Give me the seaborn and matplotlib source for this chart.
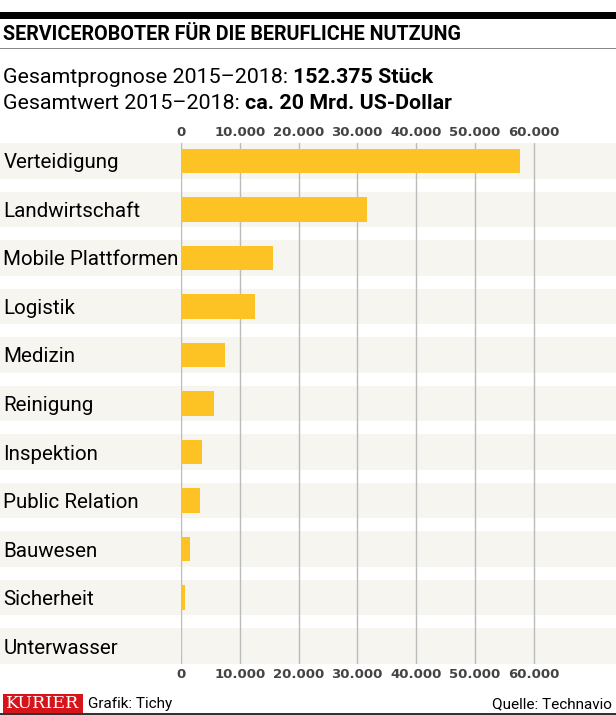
import matplotlib
matplotlib.use("Agg")
import matplotlib.pyplot as plt
import matplotlib.transforms as mtransforms
from matplotlib.patches import Rectangle
import seaborn as sns
import pandas as pd

# data
categories = ["Verteidigung", "Landwirtschaft", "Mobile Plattformen", "Logistik",
              "Medizin", "Reinigung", "Inspektion", "Public Relation",
              "Bauwesen", "Sicherheit", "Unterwasser"]
units = [57700, 31700, 15700, 12600, 7500, 5600, 3600, 3300, 1600, 700, 250]
ticks = [0, 10000, 20000, 30000, 40000, 50000, 60000]
tick_labels = ["0", "10.000", "20.000", "30.000", "40.000", "50.000", "60.000"]

df = pd.DataFrame({"Bereich": categories, "Stueck": units})

sns.set_style("white")
plt.rcParams["font.family"] = ["Roboto", "DejaVu Sans"]

W, H = 616, 715
fig = plt.figure(figsize=(W / 100, H / 100), dpi=100)
ax = fig.add_axes([181 / W, 1 - 664 / H, 1 - 181 / W, (664 - 143) / H])

# bars
sns.barplot(data=df, x="Stueck", y="Bereich", orient="h", color="#FDC325",
            saturation=1, width=0.5, linewidth=0, ax=ax, zorder=2)

# light row bands across the full width
trans = mtransforms.blended_transform_factory(fig.transFigure, ax.transData)
for i in range(len(categories)):
    ax.add_patch(Rectangle((0, i - 0.37), 1, 0.74, transform=trans,
                           facecolor="#F7F5F0", edgecolor="none",
                           clip_on=False, zorder=0.1))

ax.set_xlim(0, (W - 181) / 0.005875)
ax.set_ylim(10.37, -0.37)
ax.set_xticks(ticks)
ax.set_xticklabels(tick_labels)
ax.set_xlabel("")
ax.set_ylabel("")
ax.grid(axis="x", color="#BBBBBB", linewidth=1)
ax.set_axisbelow(True)
for s in ax.spines.values():
    s.set_visible(False)

ax.tick_params(axis="x", top=True, labeltop=True, bottom=True, labelbottom=True,
               length=0, pad=3, labelsize=9.5, labelcolor="#444444")
for lab in ax.get_xticklabels():
    lab.set_fontfamily("DejaVu Sans")
    lab.set_fontweight("bold")
ax.tick_params(axis="y", length=0, pad=128, labelsize=14.8, labelcolor="#000000")
for lab in ax.get_yticklabels():
    lab.set_ha("left")

# header
fig.patches.append(Rectangle((0, 1 - 19 / H), 1, 7 / H, transform=fig.transFigure,
                             facecolor="black", edgecolor="none"))
fig.patches.append(Rectangle((0, 1 - 48.5 / H), 1, 1 / H, transform=fig.transFigure,
                             facecolor="#888888", edgecolor="none"))
fig.text(3 / W, 1 - 34 / H, "SERVICEROBOTER FÜR DIE BERUFLICHE NUTZUNG",
         fontsize=14.2, fontweight="bold", va="center", ha="left", color="#000000")

t1 = fig.text(3 / W, 1 - 83 / H, "Gesamtprognose 2015–2018: ", fontsize=15.4,
              va="baseline", ha="left", color="#000000")
ax.annotate("152.375 Stück", xy=(1, 0), xycoords=t1, va="bottom", ha="left",
            fontsize=15.4, fontweight="bold", color="#000000")
t2 = fig.text(3 / W, 1 - 109 / H, "Gesamtwert 2015–2018: ", fontsize=15.4,
              va="baseline", ha="left", color="#000000")
ax.annotate("ca. 20 Mrd. US-Dollar", xy=(1, 0), xycoords=t2, va="bottom", ha="left",
            fontsize=15.4, fontweight="bold", color="#000000")

# footer
fig.patches.append(Rectangle((3 / W, 1 - 714 / H), 80 / W, 20 / H,
                             transform=fig.transFigure, facecolor="#D7141A",
                             edgecolor="none"))
fig.text(43 / W, 1 - 704 / H, "KURIER", fontsize=12.5, family="DejaVu Serif",
         color="white", va="center", ha="center")
fig.text(88 / W, 1 - 704 / H, "Grafik: Tichy", fontsize=11, va="center", ha="left",
         color="#000000")
fig.text(612 / W, 1 - 704 / H, "Quelle: Technavio", fontsize=11, va="center",
         ha="right", color="#000000")
fig.patches.append(Rectangle((0, 0), 1, 2 / H, transform=fig.transFigure,
                             facecolor="#333333", edgecolor="none"))

fig.savefig("out.png", dpi=100)
